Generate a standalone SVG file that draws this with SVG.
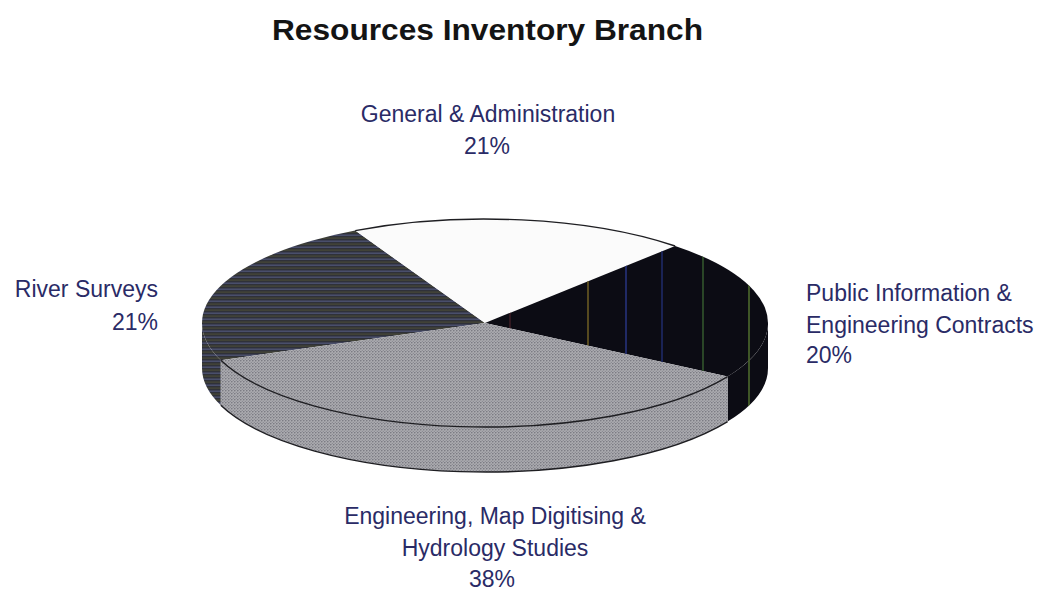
<svg xmlns="http://www.w3.org/2000/svg" width="1043" height="590" viewBox="0 0 1043 590">
<style>
  .title { font-family: "Liberation Sans", Arial, sans-serif; font-weight: bold; font-size: 29px; fill: #141414; }
  .lbl { font-family: "Liberation Sans", Arial, sans-serif; font-size: 23px; fill: #2a2b66; }
  .edge { fill: none; stroke: #1e1e22; stroke-width: 1.4; }
</style>
<defs>
  <pattern id="stripes" width="8" height="6" patternUnits="userSpaceOnUse">
    <rect width="8" height="6" fill="#2f3139"/>
    <rect y="0.5" width="8" height="1.4" fill="#4c5170"/>
    <rect y="3.5" width="8" height="1.2" fill="#484936"/>
  </pattern>
  <pattern id="dither" width="3" height="3" patternUnits="userSpaceOnUse">
    <rect width="3" height="3" fill="#ababb0"/>
    <circle cx="0.8" cy="0.8" r="0.75" fill="#6e6e76"/>
    <circle cx="2.3" cy="2.3" r="0.6" fill="#808088"/>
  </pattern>
  <clipPath id="blackClip">
    <path d="M 485 323 L 675.1 246 A 283 104 0 0 1 768 323 L 768 368 A 283 104 0 0 1 727.6 421.6 L 727.6 376.6 Z"/>
  </clipPath>
</defs>
<rect width="1043" height="590" fill="#ffffff"/>

<g id="title">
  <text class="title" x="487.5" y="40" text-anchor="middle" textLength="431" lengthAdjust="spacingAndGlyphs">Resources Inventory Branch</text>
</g>

<g id="pie">
  <g id="slice-river-surveys">
    <path d="M 220.8 360.3 A 283 104 0 0 1 202 323 L 202 368 A 283 104 0 0 0 220.8 405.3 Z" fill="url(#stripes)"/>
    <path d="M 485 323 L 220.8 360.3 A 283 104 0 0 1 355.2 230.6 Z" fill="url(#stripes)"/>
  </g>
  <g id="slice-general-administration">
    <path d="M 485 323 L 355.2 230.6 A 283 104 0 0 1 675.1 246 Z" fill="#fbfbfb"/>
    <path class="edge" d="M 355.2 230.6 A 283 104 0 0 1 675.1 246" stroke-width="1.8"/>
  </g>
  <g id="slice-public-information">
    <path d="M 768 323 A 283 104 0 0 1 727.6 376.6 L 727.6 421.6 A 283 104 0 0 0 768 368 Z" fill="#0c0c14"/>
    <path d="M 485 323 L 675.1 246 A 283 104 0 0 1 727.6 376.6 Z" fill="#0c0c14"/>
    <g clip-path="url(#blackClip)" stroke-width="1.6">
      <line x1="510" y1="230" x2="510" y2="430" stroke="#3a1c24"/>
      <line x1="588" y1="230" x2="588" y2="430" stroke="#6a5a22"/>
      <line x1="626" y1="230" x2="626" y2="430" stroke="#26327a"/>
      <line x1="662" y1="230" x2="662" y2="430" stroke="#1f2a66"/>
      <line x1="703" y1="230" x2="703" y2="430" stroke="#33552c"/>
      <line x1="749" y1="230" x2="749" y2="430" stroke="#4d6a2c"/>
    </g>
  </g>
  <g id="slice-engineering">
    <path d="M 727.6 376.6 A 283 104 0 0 1 220.8 360.3 L 220.8 405.3 A 283 104 0 0 0 727.6 421.6 Z" fill="url(#dither)"/>
    <path d="M 485 323 L 727.6 376.6 A 283 104 0 0 1 220.8 360.3 Z" fill="url(#dither)"/>
    <path class="edge" d="M 727.6 376.6 A 283 104 0 0 1 220.8 360.3" stroke-width="1.2"/>
    <path class="edge" d="M 220.8 405.3 A 283 104 0 0 0 727.6 421.6" stroke-width="1.5"/>
  </g>
</g>

<g id="connectors"/>

<g id="label-general-administration">
  <text class="lbl" x="488" y="122" text-anchor="middle">General &amp; Administration</text>
  <text class="lbl" x="487" y="154" text-anchor="middle">21%</text>
</g>
<g id="label-river-surveys">
  <text class="lbl" x="158" y="297" text-anchor="end">River Surveys</text>
  <text class="lbl" x="158" y="330" text-anchor="end">21%</text>
</g>
<g id="label-public-information">
  <text class="lbl" x="806" y="301">Public Information &amp;</text>
  <text class="lbl" x="806" y="333">Engineering Contracts</text>
  <text class="lbl" x="806" y="363">20%</text>
</g>
<g id="label-engineering">
  <text class="lbl" x="495" y="524" text-anchor="middle">Engineering, Map Digitising &amp;</text>
  <text class="lbl" x="495" y="556" text-anchor="middle">Hydrology Studies</text>
  <text class="lbl" x="492" y="587" text-anchor="middle">38%</text>
</g>
</svg>
